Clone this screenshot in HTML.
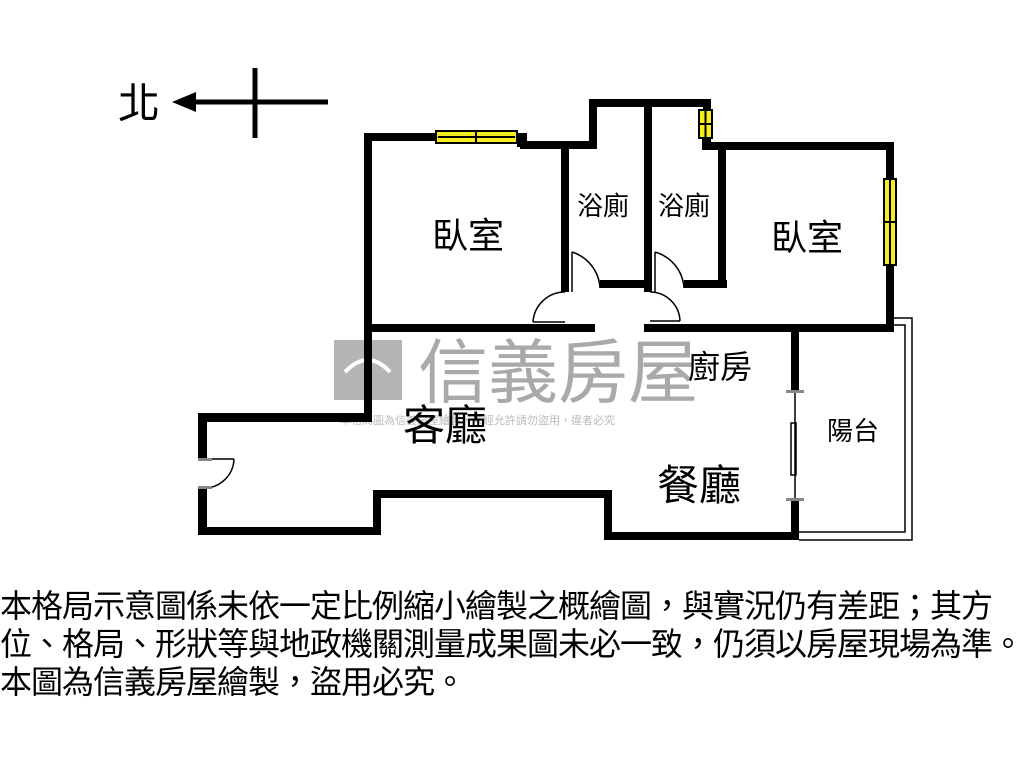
<!DOCTYPE html>
<html><head><meta charset="utf-8"><style>
html,body{margin:0;padding:0;background:#fff;}
body{width:1024px;height:768px;overflow:hidden;position:relative;font-family:"Liberation Sans","Noto Sans CJK TC",sans-serif;}
svg{position:absolute;left:0;top:0;}
.note{position:absolute;left:0;top:587px;font-size:32px;line-height:38px;color:#000;font-family:"Liberation Sans","Noto Sans CJK TC",sans-serif;white-space:nowrap;letter-spacing:-1px;}
</style></head><body>
<svg width="1024" height="768" viewBox="0 0 1024 768" xmlns="http://www.w3.org/2000/svg">
<g fill="#b5b5b5">
<rect x="334" y="340" width="68" height="60"/>
<text x="418" y="397" font-size="70" font-family="Noto Sans CJK TC, sans-serif" fill="#a9a9a9">信義房屋</text>
<text x="340" y="424" font-size="11" fill="#bbb" font-family="Noto Sans CJK TC, sans-serif">本格局圖為信義房屋繪製，未經允許請勿盜用，違者必究</text>
</g>
<path d="M345 372 Q368 348 390 372" stroke="#fff" stroke-width="4" fill="none"/>
<text x="118" y="118" font-size="42" font-family="Noto Sans CJK TC, sans-serif">北</text>
<line x1="190" y1="102" x2="328" y2="102" stroke="#000" stroke-width="5"/>
<polygon points="172,102 196,92 196,112" fill="#000"/>
<line x1="255" y1="68" x2="255" y2="138" stroke="#000" stroke-width="5"/>
<g fill="#000">
<rect x="364" y="133" width="72" height="8"/>
<rect x="364" y="133" width="8" height="199"/>
<rect x="517" y="133" width="10" height="14"/>
<rect x="520" y="141" width="77" height="8"/>
<rect x="589" y="99" width="8" height="50"/>
<rect x="589" y="99" width="122" height="8"/>
<rect x="703" y="99" width="8" height="11"/>
<rect x="702" y="138" width="9" height="12"/>
<rect x="702" y="142" width="192" height="8"/>
<rect x="886" y="142" width="8" height="37"/>
<rect x="886" y="265" width="8" height="67"/>
<rect x="561" y="141" width="8" height="151"/>
<rect x="644" y="99" width="8" height="193"/>
<rect x="600" y="280" width="52" height="8"/>
<rect x="684" y="280" width="43" height="8"/>
<rect x="718" y="142" width="8" height="146"/>
<rect x="364" y="324" width="231" height="8"/>
<rect x="644" y="324" width="250" height="8"/>
<rect x="791" y="324" width="8" height="68"/>
<rect x="791" y="500" width="8" height="40"/>
<rect x="364" y="324" width="8" height="98"/>
<rect x="198" y="413" width="174" height="9"/>
<rect x="198" y="413" width="9" height="46"/>
<rect x="198" y="488" width="9" height="46"/>
<rect x="198" y="527" width="183" height="8"/>
<rect x="373" y="490" width="8" height="45"/>
<rect x="373" y="490" width="239" height="8"/>
<rect x="604" y="490" width="8" height="50"/>
<rect x="604" y="532" width="195" height="8"/>
</g>
<g stroke="#000" stroke-width="2" fill="#f5ee1e">
<rect x="436" y="131" width="81" height="12"/>
<line x1="438" y1="137" x2="515" y2="137"/>
<line x1="476" y1="131" x2="476" y2="143"/>
<rect x="699" y="110" width="13" height="28"/>
<line x1="705.5" y1="110" x2="705.5" y2="138"/>
<line x1="699" y1="124" x2="712" y2="124"/>
<rect x="884" y="179" width="12" height="86"/>
<line x1="890" y1="179" x2="890" y2="265"/>
<line x1="884" y1="222" x2="896" y2="222"/>
</g>
<g stroke="#000" stroke-width="1.5" fill="none">
<line x1="572" y1="292" x2="572" y2="252"/>
<path d="M572 252 A40 40 0 0 1 600 288"/>
<line x1="655" y1="292" x2="655" y2="252"/>
<path d="M655 252 A40 40 0 0 1 684 288"/>
<line x1="565" y1="322" x2="533" y2="322"/>
<path d="M533 322 A32 32 0 0 1 565 292"/>
<line x1="650" y1="321" x2="680" y2="321"/>
<path d="M650 292 A30 30 0 0 1 680 321"/>
<line x1="203" y1="459" x2="234" y2="459"/>
<path d="M234 459 A30 30 0 0 1 203 488"/>
<line x1="795" y1="392" x2="795" y2="500"/>
<rect x="791" y="423" width="5" height="52"/>
<path d="M894 318 L912 318 L912 540 L799 540" />
<path d="M894 325 L905 325 L905 532 L799 532"/>
</g>
<g fill="#888"><rect x="786" y="390" width="18" height="3"/><rect x="786" y="498" width="18" height="3"/><rect x="198" y="458" width="14" height="3"/><rect x="198" y="486" width="14" height="3"/></g>
<g font-family="Noto Sans CJK TC, sans-serif" fill="#000">
<text x="432" y="248" font-size="36">臥室</text>
<text x="771" y="250" font-size="36">臥室</text>
<text x="577" y="215" font-size="26">浴廁</text>
<text x="658" y="215" font-size="26">浴廁</text>
<text x="688" y="378" font-size="32">廚房</text>
<text x="403" y="440" font-size="42">客廳</text>
<text x="657" y="500" font-size="42">餐廳</text>
<text x="827" y="440" font-size="26">陽台</text>
</g>
</svg>
<div class="note">本格局示意圖係未依一定比例縮小繪製之概繪圖，與實況仍有差距；其方<br>位、格局、形狀等與地政機關測量成果圖未必一致，仍須以房屋現場為準。<br>本圖為信義房屋繪製，盜用必究。</div>
</body></html>
